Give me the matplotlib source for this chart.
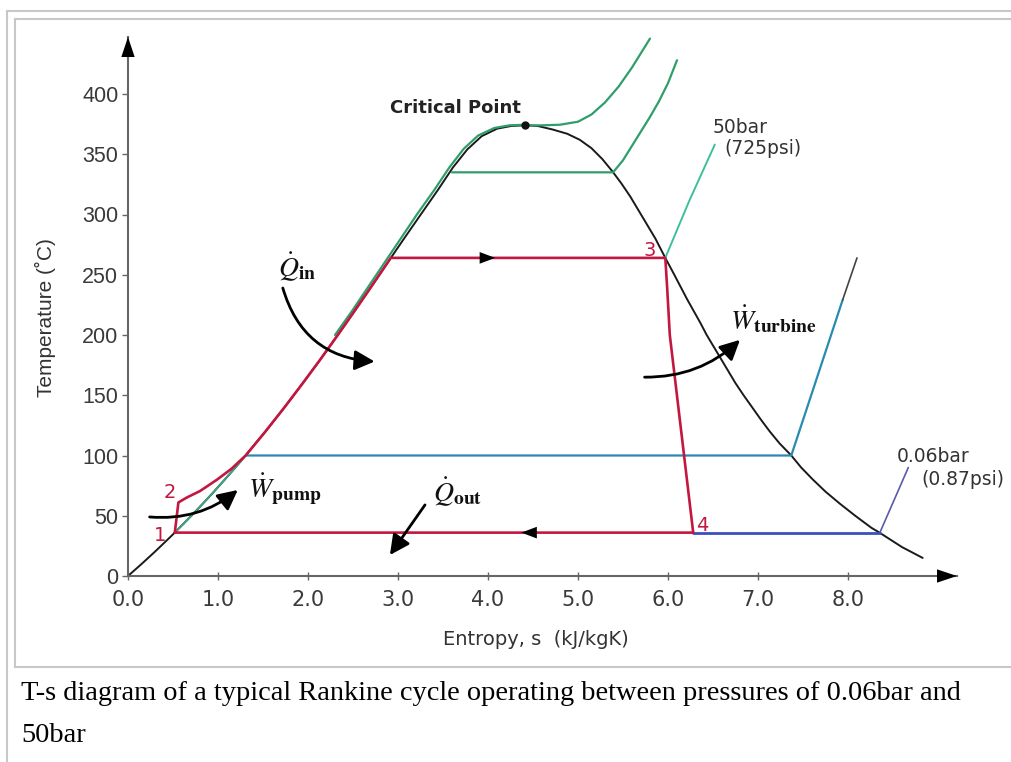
import matplotlib.pyplot as plt
from matplotlib.lines import Line2D

plt.rcParams['mathtext.fontset'] = 'stix'

W, H = 1011, 762

# saturation dome of water (entropy kJ/kgK, temperature C)
liq_s = [0.0, 0.151, 0.297, 0.437, 0.52, 0.572, 0.704, 0.831, 0.955, 1.075, 1.193,
         1.307, 1.528, 1.739, 1.942, 2.140, 2.331, 2.518, 2.702, 2.884, 3.067, 3.253,
         3.44, 3.61, 3.77, 3.93, 4.10, 4.26, 4.41]
liq_T = [0, 10, 20, 30, 36, 40, 50, 60, 70, 80, 90, 100, 120, 140, 160, 180, 200,
         220, 240, 260, 280, 300, 320, 339, 354, 365, 371.2, 373.5, 374]
vap_s = [4.41, 4.55, 4.72, 4.88, 5.02, 5.15, 5.27, 5.38, 5.48, 5.58, 5.70, 5.86,
         5.97, 6.07, 6.21, 6.36, 6.43, 6.59, 6.75, 6.84, 7.03, 7.13, 7.24, 7.37,
         7.48, 7.61, 7.75, 7.91, 8.08, 8.26, 8.35, 8.60, 8.83]
vap_T = [374, 373.5, 370.5, 367, 362, 355, 346, 336, 326, 315, 300, 280, 264, 250,
         230, 210, 200, 180, 160, 150, 130, 120, 110, 100, 90, 80, 70, 60, 50, 40,
         36, 24, 15]

# rankine cycle 1-2-3-4-1
cycle_s = [0.52, 0.56, 0.65, 0.80, 0.99, 1.15, 1.307, 1.528, 1.739, 1.942, 2.140,
           2.331, 2.518, 2.702, 2.92, 5.97, 5.99, 6.02, 6.28, 0.52]
cycle_T = [36, 61, 65, 70.5, 80, 89, 100, 120, 140, 160, 180, 200, 220, 240, 264,
           264, 240, 200, 36, 36]

# isobars
hp_liq_s = [2.30, 2.49, 2.67, 2.85, 3.03, 3.21, 3.40, 3.57, 3.73, 3.89, 4.07, 4.24,
            4.41]
hp_liq_T = [200, 220, 240, 260, 280, 300, 320, 339, 354.5, 365.5, 371.8, 374, 374.5]
crit_s = [4.41, 4.6, 4.8, 5.0, 5.15, 5.3, 5.45, 5.6, 5.7, 5.8]
crit_T = [374, 374, 374.5, 377, 383, 393, 406, 422, 434, 446]
p335_s = [3.60, 5.39, 5.5, 5.6, 5.7, 5.8, 5.9, 6.0, 6.1]
p335_T = [335, 335, 345, 357, 369, 381, 394, 409, 428]
p50_s = [5.97, 6.24, 6.52]
p50_T = [264, 312, 358]
p1_s = [1.307, 7.37, 7.94]
p1_T = [100, 100, 229]
p1_top_s = [7.94, 8.10]
p1_top_T = [229, 264]
liq_seg_s = [0.52, 0.572, 0.704, 0.831, 0.955, 1.075, 1.193, 1.307]
liq_seg_T = [36, 40, 50, 60, 70, 80, 90, 100]
p006_s = [6.28, 8.35]
p006_T = [36, 36]
lead006_s = [8.36, 8.67]
lead006_T = [37, 90]

x_ticks = [0, 1, 2, 3, 4, 5, 6, 7, 8]
x_labels = ['0.0', '1.0', '2.0', '3.0', '4.0', '5.0', '6.0', '7.0', '8.0']
y_ticks = [0, 50, 100, 150, 200, 250, 300, 350, 400]

RED = '#c3173f'
GREEN = '#2f9e6a'
TEAL = '#2a8ab0'
BLUE = '#3a4fc0'

fig = plt.figure(figsize=(W / 100, H / 100), dpi=100)
fig.patch.set_facecolor('white')


def fx(px):
    return px / W


def fy(py):
    return 1 - py / H


# page frames
frame = dict(color='#c8c8c8', lw=1.5, transform=fig.transFigure)
fig.add_artist(Line2D([fx(7), 1], [fy(11), fy(11)], **frame))
fig.add_artist(Line2D([fx(7), fx(7)], [fy(11), 0], **frame))
fig.add_artist(Line2D([fx(15), 1], [fy(19), fy(19)], **frame))
fig.add_artist(Line2D([fx(15), fx(15)], [fy(19), fy(667)], **frame))
fig.add_artist(Line2D([fx(15), 1], [fy(667), fy(667)], **frame))

# axes: origin at px (128, 576), arrow tips at (957, 576) and (128, 37)
ax = fig.add_axes([fx(128), fy(576), (957 - 128) / W, (576 - 37) / H])
ax.set_xlim(0, (957 - 128) / 90)
ax.set_ylim(0, (576 - 37) / 1.205)
ax.set_facecolor('none')
for side in ['top', 'right']:
    ax.spines[side].set_visible(False)
for side in ['left', 'bottom']:
    ax.spines[side].set_color('#666666')
    ax.spines[side].set_linewidth(1.5)

ax.set_xticks(x_ticks)
ax.set_xticklabels(x_labels, fontsize=15, family='DejaVu Sans', color='#3a3a3a')
ax.set_yticks(y_ticks)
ax.set_yticklabels([str(v) for v in y_ticks], fontsize=15.5, family='Liberation Sans',
                   color='#3a3a3a')
ax.tick_params(axis='x', direction='inout', length=6, width=1, color='#666666', pad=7)
ax.tick_params(axis='y', direction='out', length=4, width=1, color='#666666', pad=3)

ax.set_xlabel('Entropy, s  (kJ/kgK)', fontsize=14, family='DejaVu Sans', color='#333333')
ax.xaxis.set_label_coords((536 - 128) / 829, (576 - 630) / 539)
ax.set_ylabel('Temperature (\u02daC)', fontsize=15, family='Liberation Sans',
              color='#333333', va='center', ha='center')
ax.yaxis.set_label_coords((45 - 128) / 829, (576 - 318) / 539)

# axis arrow heads
head = dict(arrowstyle='-|>,head_length=0.9,head_width=0.3', color='black', lw=0,
            mutation_scale=16, shrinkA=0, shrinkB=0)
ax.annotate('', xy=(1, 0), xytext=(0.97, 0), xycoords='axes fraction', arrowprops=head)
ax.annotate('', xy=(0, 1), xytext=(0, 0.96), xycoords='axes fraction', arrowprops=head)

kw = dict(clip_on=False, solid_capstyle='round', solid_joinstyle='round')
ax.plot(liq_s + vap_s, liq_T + vap_T, color='#1a1a1a', lw=1.4, **kw)
ax.plot(liq_seg_s, liq_seg_T, color='#3aa88a', lw=1.3, **kw)
ax.plot(hp_liq_s, hp_liq_T, color=GREEN, lw=1.6, **kw)
ax.plot(crit_s, crit_T, color=GREEN, lw=1.6, **kw)
ax.plot(p335_s, p335_T, color=GREEN, lw=1.6, **kw)
ax.plot(p50_s, p50_T, color='#3cbf9c', lw=1.4, **kw)
ax.plot(p1_s, p1_T, color=TEAL, lw=1.6, **kw)
ax.plot(p1_top_s, p1_top_T, color='#444444', lw=1.2, **kw)
ax.plot(p006_s, p006_T, color=BLUE, lw=2.0, **kw)
ax.plot(lead006_s, lead006_T, color='#5a5aa8', lw=1.2, **kw)
ax.plot(cycle_s, cycle_T, color=RED, lw=1.9, **kw)

# critical point
ax.plot([4.41], [374], 'o', color='#111111', ms=5, clip_on=False)
ax.text(3.64, 388, 'Critical Point', fontsize=13, fontweight='bold', color='#222222',
        ha='center', va='center', family='DejaVu Sans')

# flow direction heads on the cycle
small = dict(arrowstyle='-|>,head_length=0.8,head_width=0.3', color='black', lw=0,
             mutation_scale=14, shrinkA=0, shrinkB=0)
ax.annotate('', xy=(4.08, 264), xytext=(3.9, 264), arrowprops=small)
ax.annotate('', xy=(4.37, 36), xytext=(4.55, 36), arrowprops=small)

# state numbers
num = dict(color=RED, fontsize=14, family='DejaVu Sans', ha='center', va='center')
ax.text(0.36, 34, '1', **num)
ax.text(0.47, 69, '2', **num)
ax.text(5.80, 270, '3', **num)
ax.text(6.38, 42, '4', **num)

lab = dict(fontsize=13.5, color='#333333', family='DejaVu Sans', ha='left', va='center')
ax.text(6.49, 372.6, '50bar', **lab)
ax.text(6.63, 355, '(725psi)', **lab)
ax.text(8.54, 98.8, '0.06bar', **lab)
ax.text(8.82, 79.7, '(0.87psi)', **lab)

# heat and work labels
mt = dict(fontsize=20, color='#111111', ha='left', va='baseline')
ax.text(1.67, 248, r'$\dot{Q}_{\mathbf{in}}$', **mt)
ax.text(6.69, 205, r'$\dot{W}_{\mathbf{turbine}}$', **mt)
ax.text(1.33, 65, r'$\dot{W}_{\mathbf{pump}}$', **mt)
ax.text(3.39, 61, r'$\dot{Q}_{\mathbf{out}}$', **mt)


def curved(start, end, rad):
    ax.annotate('', xy=end, xytext=start,
                arrowprops=dict(arrowstyle='-|>,head_length=0.6,head_width=0.3',
                                connectionstyle='arc3,rad=%s' % rad, lw=2,
                                color='black', mutation_scale=20, shrinkA=0, shrinkB=0))


curved((1.72, 239), (2.74, 178), 0.35)
curved((5.74, 165), (6.80, 196), 0.2)
curved((0.24, 49), (1.22, 71.4), 0.2)
curved((3.30, 59), (2.91, 17.4), 0.0)

# caption
cap = dict(fontsize=20.4, family='Liberation Serif', color='black', ha='left',
           va='baseline')
fig.text(fx(21), fy(700),
         'T-s diagram of a typical Rankine cycle operating between pressures of 0.06bar and',
         **cap)
fig.text(fx(21), fy(742), '50bar', **cap)

fig.savefig('out.png', dpi=100)
